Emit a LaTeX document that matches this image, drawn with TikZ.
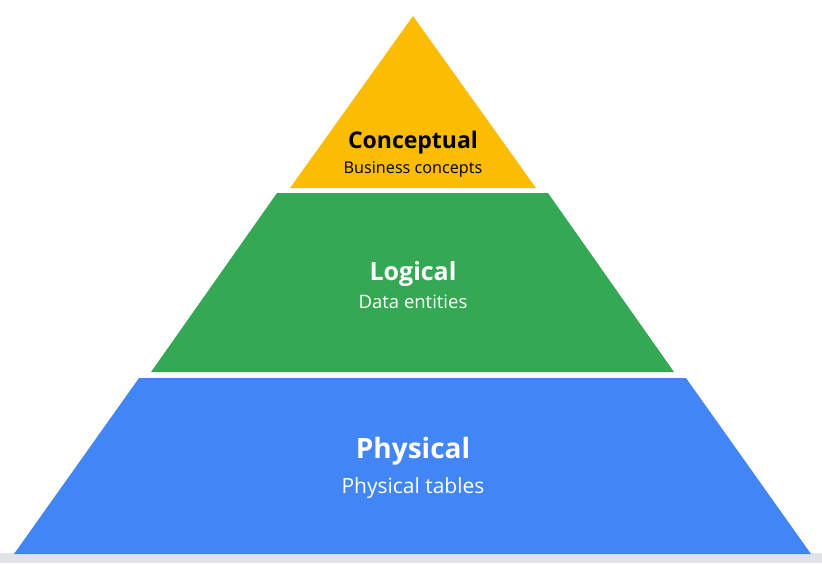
\documentclass[tikz,border=0pt]{standalone}
\usepackage{fontspec}
\setmainfont{Open Sans}
\definecolor{conceptColor}{HTML}{FBBC04}
\definecolor{logicColor}{HTML}{34A853}
\definecolor{physColor}{HTML}{4285F4}
\definecolor{floorColor}{HTML}{E1E3E6}

\begin{document}
\begin{tikzpicture}[
    x=1pt, y=-1pt,
    tier/.style={draw=none},
    title/.style={anchor=base, inner sep=0pt, font=\bfseries},
    subtitle/.style={anchor=base, inner sep=0pt},
]
\useasboundingbox (0,0) rectangle (822,563);

% Floor line
\fill[floorColor] (0,553) rectangle (822,563);

% Tiers
\fill[tier, conceptColor] (413,16) -- (536,188) -- (290,188) -- cycle;
\fill[tier, logicColor] (277,193) -- (548,193) -- (674,372) -- (151,372) -- cycle;
\fill[tier, physColor] (139,378) -- (686,378) -- (811,554) -- (14,554) -- cycle;

% Labels
\node[title, font=\fontsize{23}{27}\selectfont\bfseries] (conc) at (413,148) {Conceptual};
\node[subtitle, font=\fontsize{16.2}{19}\selectfont] (concsub) at (413,173) {Business concepts};

\node[title, font=\fontsize{25}{30}\selectfont\bfseries, white] (logi) at (413,280) {Logical};
\node[subtitle, font=\fontsize{18.5}{22}\selectfont, white] (logisub) at (413,308) {Data entities};

\node[title, font=\fontsize{28}{33}\selectfont\bfseries, white] (phys) at (413,458) {Physical};
\node[subtitle, font=\fontsize{21}{25}\selectfont, white] (physsub) at (413,493) {Physical tables};

\end{tikzpicture}
\end{document}
